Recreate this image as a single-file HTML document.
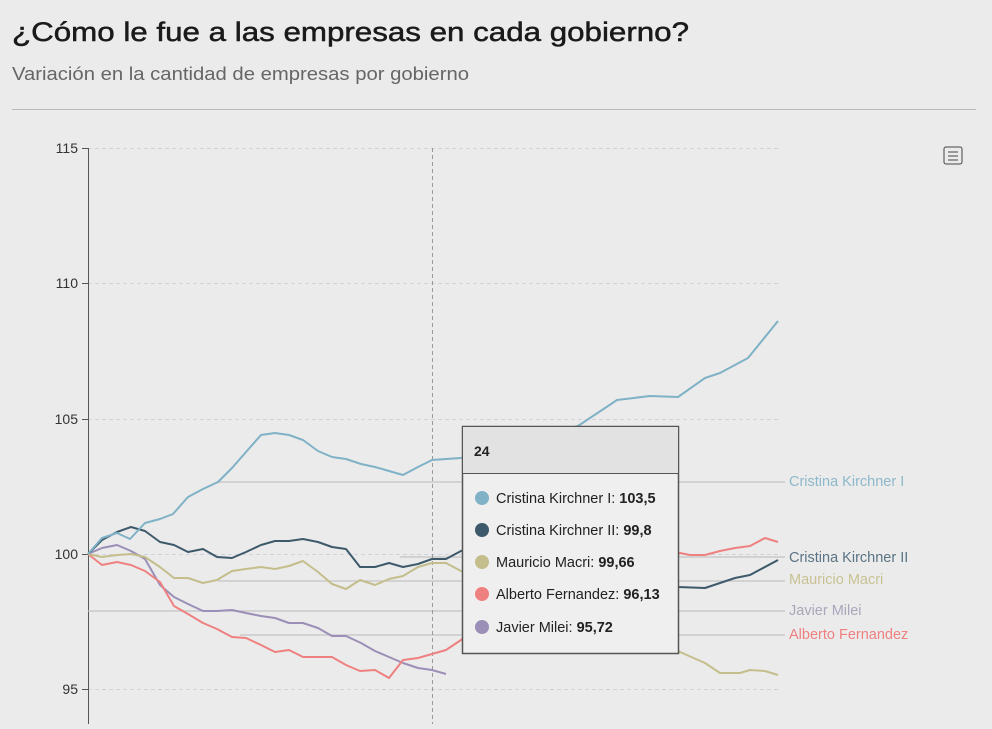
<!DOCTYPE html>
<html><head><meta charset="utf-8"><style>
body{margin:0;background:#ebebeb;width:992px;height:724px;overflow:hidden;font-family:"Liberation Sans",sans-serif}
</style></head><body>
<svg width="992" height="724" xmlns="http://www.w3.org/2000/svg" font-family="Liberation Sans, sans-serif">
<rect width="992" height="724" fill="#ebebeb"/>
<text x="12" y="41" font-size="27" fill="#1a1a1a" stroke="#1a1a1a" stroke-width="0.5" textLength="677" lengthAdjust="spacingAndGlyphs">¿Cómo le fue a las empresas en cada gobierno?</text>
<text x="12" y="80" font-size="18" fill="#666" textLength="457" lengthAdjust="spacingAndGlyphs">Variación en la cantidad de empresas por gobierno</text>
<line x1="12" y1="109.5" x2="976" y2="109.5" stroke="#bbb"/>
<g stroke="#cfd3dc" stroke-dasharray="4,3">
<line x1="88" y1="148.5" x2="778" y2="148.5"/><line x1="88" y1="283.5" x2="778" y2="283.5"/>
<line x1="88" y1="419.5" x2="778" y2="419.5"/><line x1="88" y1="554.5" x2="778" y2="554.5"/>
<line x1="88" y1="689.5" x2="778" y2="689.5"/></g>
<line x1="88.5" y1="148" x2="88.5" y2="724" stroke="#555"/>
<g stroke="#555"><line x1="82" y1="148.5" x2="88" y2="148.5"/><line x1="82" y1="283.5" x2="88" y2="283.5"/><line x1="82" y1="419.5" x2="88" y2="419.5"/><line x1="82" y1="554.5" x2="88" y2="554.5"/><line x1="82" y1="689.5" x2="88" y2="689.5"/></g>
<g font-size="14" fill="#333" text-anchor="end"><text x="78" y="153">115</text><text x="78" y="288">110</text><text x="78" y="424">105</text><text x="78" y="559">100</text><text x="78" y="694">95</text></g>
<g stroke="#c4c4c4" stroke-width="1.2">
<line x1="218" y1="482" x2="785" y2="482"/><line x1="400" y1="557" x2="785" y2="557"/>
<line x1="218" y1="581" x2="785" y2="581"/><line x1="88" y1="611" x2="785" y2="611"/>
<line x1="240" y1="635" x2="785" y2="635"/></g>
<line x1="432.5" y1="148" x2="432.5" y2="724" stroke="#999" stroke-dasharray="4,3"/>
<g fill="none" stroke-width="2" stroke-linejoin="round">
<polyline stroke="#9b8fb8" points="88,554 102,548 117,545 131,551 145,559 160,585 174,597 188,604 203,611 217,611 232,610 246,613 261,616 275,618 289,623 303,623 318,628 332,636 346,636 361,643 375,651 389,657 403,663 418,668 432,670 446,674"/>
<polyline stroke="#ef8080" points="88,554 102,565 117,562 131,565 145,571 160,582 174,606 188,614 203,623 217,629 232,637 246,638 261,645 275,652 289,650 303,657 318,657 332,657 346,665 360,671 375,670 389,678 403,660 418,658 432,654 446,650 461,640 470,630 680,553 690,555 705,555 720,551 735,548 750,546 765,538 778,542"/>
<polyline stroke="#c4be8c" points="88,554 102,557 117,555 131,554 145,557 160,567 174,578 188,578 203,583 217,580 232,571 246,569 261,567 275,569 289,566 303,561 318,572 332,584 346,589 360,580 375,585 389,579 403,576 418,567 432,563 446,563 461,571 470,575 660,640 680,652 705,663 720,673 740,673 750,670 765,671 778,675"/>
<polyline stroke="#3d5a6b" points="88,554 102,540 117,532 131,527 145,531 160,542 174,545 188,552 203,549 217,557 232,558 246,552 261,545 275,541 289,541 303,539 318,542 332,547 346,549 360,567 375,567 389,563 403,567 418,564 432,559 446,559 461,551 470,548 678,587 705,588 735,578 750,575 778,560"/>
<polyline stroke="#7fb2c6" points="88,554 102,538 117,533 130,539 145,523 160,519 173,514 188,497 203,489 218,482 232,468 246,452 261,435 275,433 289,435 303,440 318,451 332,457 346,459 361,464 375,467 389,471 403,475 418,467 432,460 446,459 461,458 578,426 617,400 650,396 678,397 705,378 720,373 748,358 778,321"/>
</g>
<g font-size="14.5"><text x="789" y="486" fill="#8db8cb">Cristina Kirchner I</text><text x="789" y="562" fill="#5a7484">Cristina Kirchner II</text><text x="789" y="584" fill="#c8c293">Mauricio Macri</text><text x="789" y="615" fill="#aaa6bb">Javier Milei</text><text x="789" y="639" fill="#ef8080">Alberto Fernandez</text></g>
<g stroke="#444" stroke-width="1"><rect x="944" y="147" width="18" height="17" fill="none" rx="2"/><line x1="948" y1="152" x2="958" y2="152"/><line x1="948" y1="156" x2="958" y2="156"/><line x1="948" y1="160" x2="958" y2="160"/></g>
<rect x="462.5" y="426.5" width="216" height="227" fill="#efefef" stroke="#555" stroke-width="1.5"/>
<rect x="463" y="427" width="215" height="46" fill="#e2e2e2"/>
<line x1="462" y1="473.5" x2="679" y2="473.5" stroke="#555"/>
<text x="474" y="456" font-size="14" font-weight="bold" fill="#222">24</text>
<g font-size="14.5" fill="#222">
<circle cx="482" cy="498" r="7" fill="#7fb2c6"/><text x="496" y="503">Cristina Kirchner I: <tspan font-weight="bold">103,5</tspan></text>
<circle cx="482" cy="530" r="7" fill="#3d5a6b"/><text x="496" y="535">Cristina Kirchner II: <tspan font-weight="bold">99,8</tspan></text>
<circle cx="482" cy="562" r="7" fill="#c4be8c"/><text x="496" y="567">Mauricio Macri: <tspan font-weight="bold">99,66</tspan></text>
<circle cx="482" cy="594" r="7" fill="#ef8080"/><text x="496" y="599">Alberto Fernandez: <tspan font-weight="bold">96,13</tspan></text>
<circle cx="482" cy="627" r="7" fill="#9b8fb8"/><text x="496" y="632">Javier Milei: <tspan font-weight="bold">95,72</tspan></text>
</g>
</svg>
</body></html>
